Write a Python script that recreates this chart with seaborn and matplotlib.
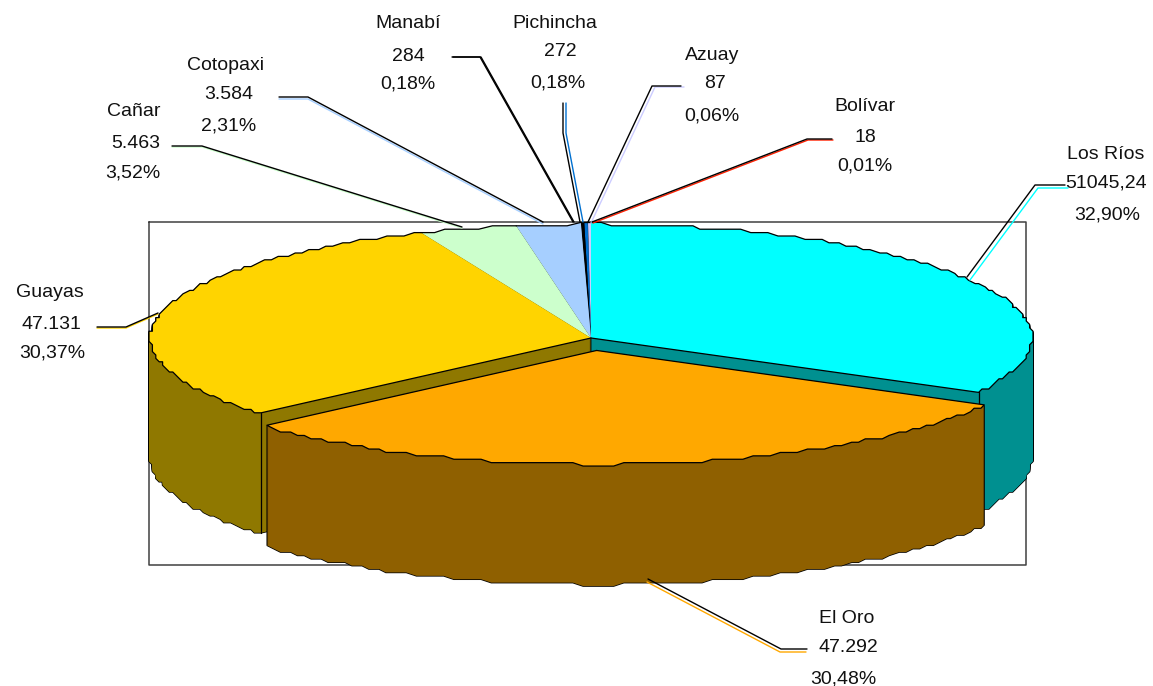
import numpy as np
import matplotlib
matplotlib.use("Agg")
import matplotlib.pyplot as plt
from matplotlib.patches import Polygon
import seaborn as sns

# clockwise from 12 o'clock
provinces = ["Los Ríos", "El Oro", "Guayas", "Cañar", "Cotopaxi", "Manabí", "Pichincha", "Azuay", "Bolívar"]
hectares = [51045.24, 47292, 47131, 5463, 3584, 284, 272, 87, 18]
value_labels = ["51045,24", "47.292", "47.131", "5.463", "3.584", "284", "272", "87", "18"]
percent_labels = ["32,90%", "30,48%", "30,37%", "3,52%", "2,31%", "0,18%", "0,18%", "0,06%", "0,01%"]
top_colors = ["#00FFFF", "#FFA800", "#FFD400", "#CCFFCC", "#A6CFFF", "#000000", "#0070D0", "#CCCCFF", "#FF2000"]
side_colors = ["#009090", "#8F6000", "#8F7800", "#729072", "#5D7490", "#000000", "#003F75", "#727290", "#8F1200"]
explode = [0, 0.11, 0, 0, 0, 0, 0, 0, 0]

# text placement in pixels: x of each line, y of each line
label_x = {
    "Los Ríos": (1106, 1106, 1107), "El Oro": (847, 848, 843), "Guayas": (50, 51, 52),
    "Cañar": (134, 136, 133), "Cotopaxi": (226, 229, 229), "Manabí": (408, 408, 408),
    "Pichincha": (555, 560, 558), "Azuay": (712, 715, 712), "Bolívar": (865, 865, 865),
}
label_y = {
    "Los Ríos": (153, 181, 213), "El Oro": (617, 646, 677), "Guayas": (291, 323, 351),
    "Cañar": (110, 142, 171), "Cotopaxi": (64, 93, 124), "Manabí": (22, 55, 82),
    "Pichincha": (22, 50, 81), "Azuay": (54, 82, 114), "Bolívar": (105, 136, 164),
}
leaders = {
    "Los Ríos": [(1065, 185), (1035, 185), (967, 277)],
    "El Oro": [(807, 649), (781, 649), (648, 579)],
    "Guayas": [(97, 327), (126, 327), (158, 313)],
    "Cañar": [(172, 146), (202, 146), (462, 227)],
    "Cotopaxi": [(279, 97), (308, 97), (543, 222)],
    "Manabí": [(452, 57), (480, 57), (573, 222)],
    "Pichincha": [(563, 103), (563, 133), (580, 222)],
    "Azuay": [(681, 86), (652, 86), (588, 222)],
    "Bolívar": [(832, 139), (807, 139), (592, 222)],
}
leader_offset = {
    "Los Ríos": (3, 3), "El Oro": (-1, 3), "Guayas": (0, 1), "Cañar": (0, 1), "Cotopaxi": (0, 2),
    "Manabí": (1, 0), "Pichincha": (3, 0), "Azuay": (3, 1), "Bolívar": (1, 1),
}

W, H = 1153, 686
CX, CY, RX, RY = 591, 338, 441, 114
DEPTH = 120
STEP = 3.4  # the outline in the original is stair stepped


def px(x, y):
    # picture pixels -> data units of the squashed pie
    return (x - CX) / RX, (CY - y) / RY


def stepped_arc(wedge):
    # arc of a pie wedge, snapped to a coarse pixel grid, relative to the wedge centre
    count = max(2, int((wedge.theta2 - wedge.theta1) / 1.3))
    t = np.radians(np.linspace(wedge.theta1, wedge.theta2, count))
    xs = np.round(wedge.r * np.cos(t) * RX / STEP) * STEP / RX
    ys = np.round(wedge.r * np.sin(t) * RY / STEP) * STEP / RY
    return np.column_stack([xs, ys]) + np.asarray(wedge.center)


sns.set_theme(style="white")
plt.rcParams["font.family"] = ["Liberation Sans", "DejaVu Sans"]

tops = sns.color_palette(top_colors)
sides = sns.color_palette(side_colors)

fig, ax = plt.subplots(figsize=(W / 100, H / 100), dpi=100)
fig.subplots_adjust(0, 0, 1, 1)

# slices paint back to front
paint_rank = [3, 4, 3.5, 2, 1.5, 1, 0.9, 0.8, 0.7]


def draw_layer(drop, colors, edge, lw, z):
    wedges, _ = ax.pie(hectares, colors=colors, explode=explode, startangle=90,
                       counterclock=False, center=(0, -drop / RY), radius=1)
    out = []
    for w, rank, color in zip(wedges, paint_rank, colors):
        arc = stepped_arc(w)
        apex = np.asarray(w.center)
        ax.add_patch(Polygon(np.vstack([apex, arc]), closed=True, facecolor=color,
                             edgecolor=edge, linewidth=lw, zorder=rank + z))
        out.append((apex, arc))
        w.remove()
    return out


# walls: a black silhouette, then the dark fill over it, slice by slice
drops = np.arange(DEPTH, 0, -1)
for drop in drops:
    draw_layer(drop, ["black"] * len(hectares), "black", 1.1, 0)
for drop in drops:
    draw_layer(drop, sides, "none", 0, 0.05)
faces = draw_layer(0, tops, "none", 0, 10)

# black line along the rim, plus the cuts that face El Oro
for name, (apex, arc) in zip(provinces, faces):
    if name == "Los Ríos":
        line = np.vstack([apex, arc])
        corner = arc[0]
    elif name == "El Oro":
        line = np.vstack([apex, arc, apex])
        corner = None
    elif name == "Guayas":
        line = np.vstack([arc, apex])
        corner = arc[-1]
    else:
        line = arc
        corner = None
    ax.plot(line[:, 0], line[:, 1], color="black", lw=0.9, zorder=20)
    if corner is not None:
        # edge where the outer wall meets the cut, El Oro's wall hides the rest
        ax.plot([corner[0], corner[0]], [corner[1], corner[1] - DEPTH / RY],
                color="black", lw=0.9, zorder=3.8)

ax.set_aspect("auto")
ax.set_xlim(px(0, 0)[0], px(W, 0)[0])
ax.set_ylim(px(0, H)[1], px(0, 0)[1])

x0, y0 = px(149, 222)
x1, y1 = px(1026, 565)
ax.plot([x0, x1, x1, x0, x0], [y0, y0, y1, y1, y0], color="#404040", lw=1.1, zorder=0)

for name, color in zip(provinces, tops):
    pts = np.array([px(*p) for p in leaders[name]])
    dx, dy = leader_offset[name]
    shifted = np.array([px(p[0] + dx, p[1] + dy) for p in leaders[name]])
    ax.plot(shifted[:, 0], shifted[:, 1], color=color, lw=1, zorder=30)
    ax.plot(pts[:, 0], pts[:, 1], color="black", lw=1, zorder=31)

for name, val, pct in zip(provinces, value_labels, percent_labels):
    for line, lx, ly in zip((name, val, pct), label_x[name], label_y[name]):
        tx, ty = px(lx, ly + 1.5)
        ax.text(tx, ty, line, ha="center", va="center", fontsize=14, color="#111111", zorder=40)

fig.savefig("out.png", dpi=100)
